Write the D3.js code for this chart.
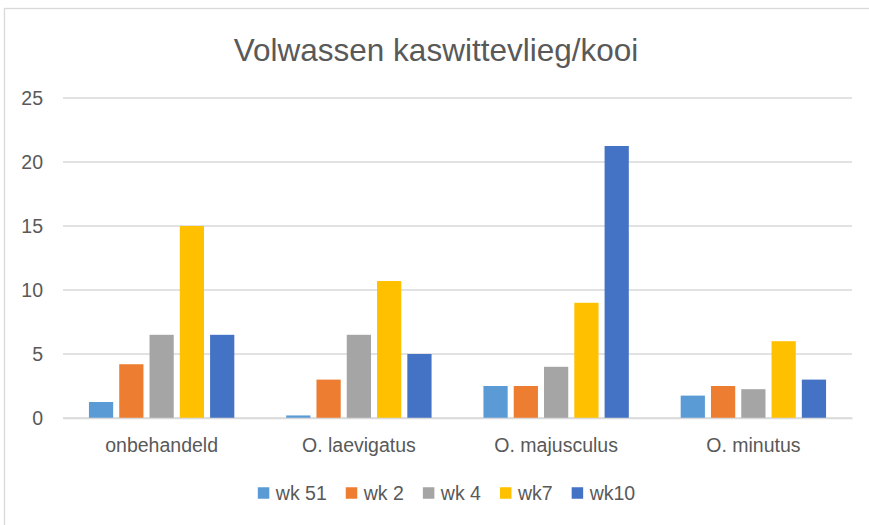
<!DOCTYPE html>
<html>
<head>
<meta charset="utf-8">
<script src="https://cdn.jsdelivr.net/npm/d3@7"></script>
<style>
  body { margin: 0; background: #fff; }
  text { font-family: "Liberation Sans", Arial, sans-serif; fill: #595959; }
</style>
</head>
<body>
<div id="chart"></div>
<script>
// data
const categories = ["onbehandeld", "O. laevigatus", "O. majusculus", "O. minutus"];
const seriesNames = ["wk 51", "wk 2", "wk 4", "wk7", "wk10"];
const wk51 = [1.25, 0.2, 2.5, 1.75];
const wk2 = [4.2, 3, 2.5, 2.5];
const wk4 = [6.5, 6.5, 4, 2.25];
const wk7 = [15, 10.7, 9, 6];
const wk10 = [6.5, 5, 21.25, 3];
const yTicks = [0, 5, 10, 15, 20, 25];
const colors = ["#5B9BD5", "#ED7D31", "#A5A5A5", "#FFC000", "#4472C4"];

const seriesValues = [wk51, wk2, wk4, wk7, wk10];
const W = 869, H = 525;
const plot = {left: 63, right: 852, top: 98, bottom: 418};

const svg = d3.select("#chart").append("svg")
  .attr("width", W).attr("height", H);

// chart area border
svg.append("rect")
  .attr("x", 4.5).attr("y", 8.5)
  .attr("width", W + 10).attr("height", H + 10)
  .attr("fill", "#fff").attr("stroke", "#D9D9D9").attr("stroke-width", 1.3);

svg.append("text")
  .attr("x", 436).attr("y", 61)
  .attr("text-anchor", "middle")
  .style("font-size", "31.5px")
  .text("Volwassen kaswittevlieg/kooi");

const y = d3.scaleLinear().domain([0, 25]).range([plot.bottom, plot.top]);
const x0 = d3.scaleBand().domain(categories).range([plot.left, plot.right]);
const groupW = x0.bandwidth() * 0.737;
const x1 = d3.scaleBand().domain(seriesNames).range([0, groupW]).paddingInner(0.2);

// gridlines
svg.append("g")
  .selectAll("line")
  .data(yTicks)
  .join("line")
  .attr("x1", plot.left).attr("x2", plot.right)
  .attr("y1", d => y(d)).attr("y2", d => y(d))
  .attr("stroke", "#D9D9D9").attr("stroke-width", 1.3);

// y axis labels
const yAxis = svg.append("g")
  .attr("transform", `translate(${plot.left},0)`)
  .call(d3.axisLeft(y).tickValues(yTicks).tickSize(0).tickPadding(20));
yAxis.select(".domain").remove();
yAxis.selectAll("text")
  .style("font-size", "19.5px")
  .attr("fill", null)
  .attr("font-family", null);

// bars
const groups = svg.append("g")
  .selectAll("g")
  .data(categories)
  .join("g")
  .attr("transform", d => `translate(${x0(d) + (x0.bandwidth() - groupW) / 2},0)`);

groups.selectAll("rect")
  .data((c, ci) => seriesNames.map((s, si) => ({s, si, v: seriesValues[si][ci]})))
  .join("rect")
  .attr("x", d => x1(d.s))
  .attr("y", d => y(d.v))
  .attr("width", x1.bandwidth())
  .attr("height", d => y(0) - y(d.v))
  .attr("fill", d => colors[d.si]);

// category axis
const xAxis = svg.append("g")
  .attr("transform", `translate(0,${plot.bottom})`)
  .call(d3.axisBottom(x0).tickSize(0).tickPadding(20));
xAxis.select(".domain").attr("stroke", "#D9D9D9").attr("stroke-width", 1.3);
xAxis.selectAll("text")
  .style("font-size", "19.5px")
  .attr("fill", null)
  .attr("font-family", null);

// legend
const legend = svg.append("g");
let lx = 0;
seriesNames.forEach((name, i) => {
  const item = legend.append("g").attr("transform", `translate(${lx},0)`);
  item.append("rect")
    .attr("x", 0).attr("y", -5.75)
    .attr("width", 11.5).attr("height", 11.5)
    .attr("fill", colors[i]);
  const t = item.append("text")
    .attr("x", 18).attr("y", 0)
    .attr("dy", "0.35em")
    .style("font-size", "19.5px")
    .text(name);
  lx += 18 + t.node().getComputedTextLength() + 19;
});
const legendW = lx - 19;
legend.attr("transform", `translate(${446.5 - legendW / 2},493)`);
</script>
</body>
</html>
